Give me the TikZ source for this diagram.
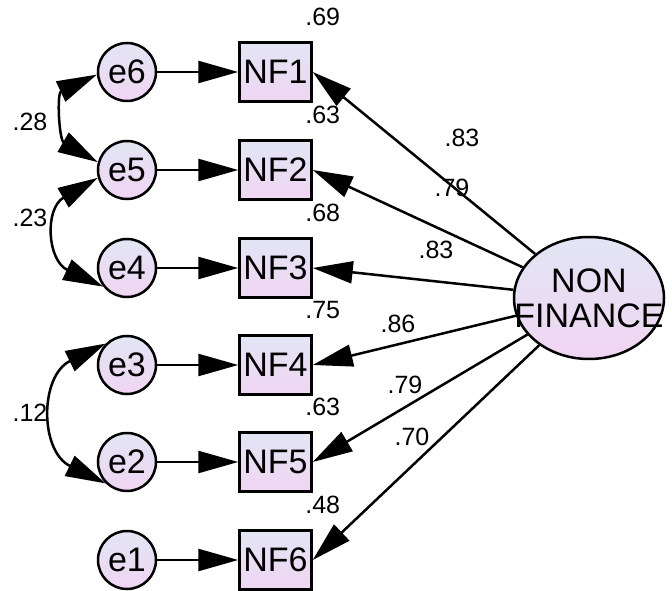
\documentclass[tikz,border=0pt]{standalone}
\usepackage{fontspec}
\setmainfont{Liberation Sans}
\usetikzlibrary{arrows.meta,shapes.geometric,positioning}

\definecolor{semTop}{RGB}{226,229,244}
\definecolor{semBot}{RGB}{240,213,243}

\begin{document}
\begin{tikzpicture}[
  x=1pt, y=1pt,
  line width=2.5pt,
  font=\fontsize{34}{35}\selectfont,
  >={Triangle[length=40pt, width=22pt]},
  node distance=81pt,
Err/.style={circle, draw, minimum size=58pt, inner sep=0pt,
            top color=semTop, bottom color=semBot},
Obs/.style={rectangle, draw, minimum width=72pt, minimum height=59pt,
            inner sep=0pt, top color=semTop, bottom color=semBot},
Lat/.style={ellipse, draw, minimum width=150pt, minimum height=122pt,
            inner sep=0pt, align=center, top color=semTop, bottom color=semBot},
Num/.style={font=\fontsize{25}{27}\selectfont, inner sep=0pt},
Cov/.style={<->, looseness=1.45},
  ]
\useasboundingbox (0,0) rectangle (672,590);

% error terms
\node [Err] (e6) at (127,518) {e6};
\node [Err] (e5) at (127,420) {e5};
\node [Err] (e4) at (127,322) {e4};
\node [Err] (e3) at (127,225) {e3};
\node [Err] (e2) at (127,128) {e2};
\node [Err] (e1) at (127,30)  {e1};

% indicators
\node [Obs, right=of e6] (nf1) {NF1};
\node [Obs, right=of e5] (nf2) {NF2};
\node [Obs, right=of e4] (nf3) {NF3};
\node [Obs, right=of e3] (nf4) {NF4};
\node [Obs, right=of e2] (nf5) {NF5};
\node [Obs, right=of e1] (nf6) {NF6};

% latent factor
\node [Lat] (nonfin) at (589,292) {\makebox[0pt]{NON}\\\makebox[0pt]{FINANCE}};

\draw [->] (e6) -- (nf1);
\draw [->] (e5) -- (nf2);
\draw [->] (e4) -- (nf3);
\draw [->] (e3) -- (nf4);
\draw [->] (e2) -- (nf5);
\draw [->] (e1) -- (nf6);

\draw [->] (nonfin) -- (nf1.east);
\draw [->] (nonfin) -- (nf2.east);
\draw [->] (nonfin) -- (nf3.east);
\draw [->] (nonfin) -- (nf4.east);
\draw [->] (nonfin) -- (nf5.east);
\draw [->] (nonfin) -- (nf6.east);

% covariances between errors
\draw [Cov, looseness=1.3] (e6.185) to [out=205, in=150] (e5.165);
\draw [Cov] (e5.195) to [out=210, in=155] (e4.218);
\draw [Cov, looseness=1.35] (e3.135) to [out=206, in=154] (e2.225);

\node [Num] (c1) at (30,468) {.28};
\node [Num] (c2) at (30,372) {.23};
\node [Num] (c3) at (30,177) {.12};

% squared multiple correlations
\node [Num] (r1) at ([shift={(10,24)}]nf1.north east) {.69};
\node [Num] (r2) at ([shift={(10,24)}]nf2.north east) {.63};
\node [Num] (r3) at ([shift={(10,24)}]nf3.north east) {.68};
\node [Num] (r4) at ([shift={(10,24)}]nf4.north east) {.75};
\node [Num] (r5) at ([shift={(10,24)}]nf5.north east) {.63};
\node [Num] (r6) at ([shift={(10,24)}]nf6.north east) {.48};

% loadings
\node [Num] (l1) at (462,452) {.83};
\node [Num] (l2) at (452,402) {.79};
\node [Num] (l3) at (436,340) {.83};
\node [Num] (l4) at (398,266) {.86};
\node [Num] (l5) at (405,205) {.79};
\node [Num] (l6) at (412,153) {.70};
\end{tikzpicture}
\end{document}
